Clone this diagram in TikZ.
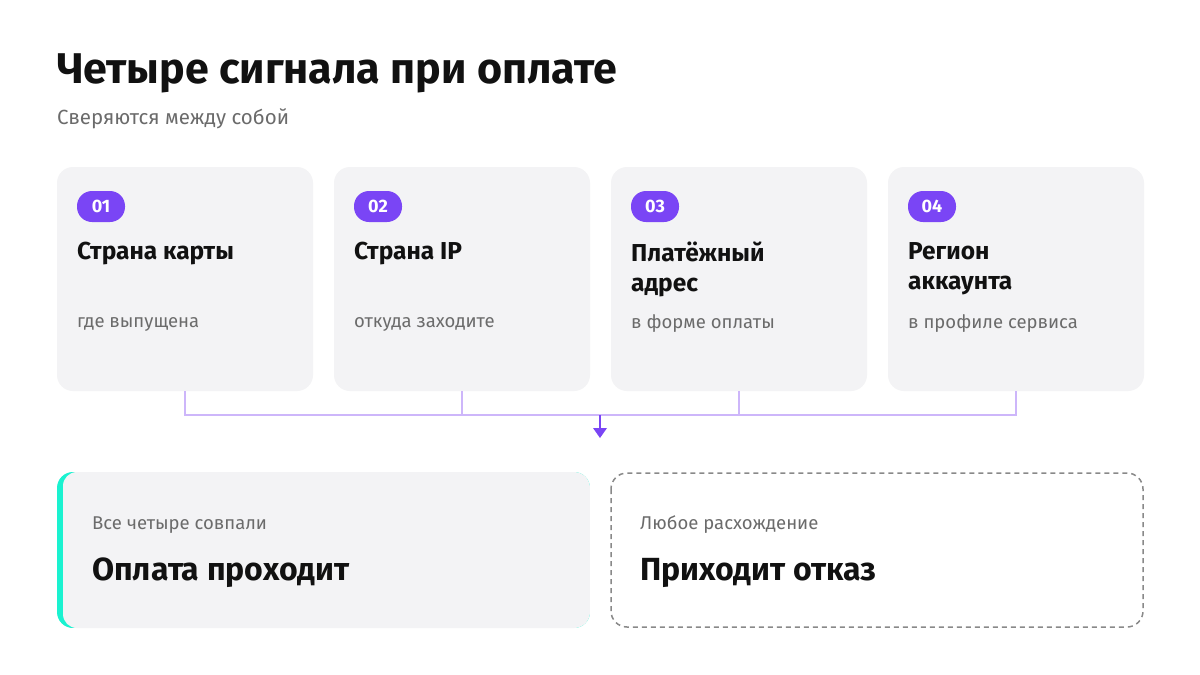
\documentclass[tikz,border=0pt]{standalone}
\usepackage{fontspec}
\setmainfont{Fira Sans}
\begin{document}
\begin{tikzpicture}[x=1pt,y=-1pt,
  card/.style={fill=cardbg,rounded corners=16pt},
  badge/.style={fill=badgec,text=white,rounded corners=15pt,minimum width=48pt,minimum height=31pt,inner sep=0pt,font=\fontsize{18}{18}\selectfont\bfseries},
  ttl/.style={anchor=west,align=left,font=\fontsize{24.5}{30}\selectfont\bfseries,text=ink,inner sep=0pt},
  sub/.style={anchor=west,font=\fontsize{18.5}{18.5}\selectfont,text=grayt,inner sep=0pt},
  big/.style={anchor=west,inner sep=0pt,font=\fontsize{32}{32}\selectfont\bfseries,text=ink},
  conn/.style={draw=linec,line width=1.5pt}]
\definecolor{cardbg}{HTML}{F3F3F5}
\definecolor{badgec}{HTML}{7A45F5}
\definecolor{ink}{HTML}{111111}
\definecolor{grayt}{HTML}{6B6B6B}
\definecolor{linec}{HTML}{CDB6FA}
\definecolor{greenc}{HTML}{1AF2D0}
\useasboundingbox (0,0) rectangle (1200,675);
\fill[white] (0,0) rectangle (1200,675);
\node[anchor=west,inner sep=0pt,font=\fontsize{43}{43}\selectfont\bfseries,text=ink] (title) at (57,73) {Четыре сигнала при оплате};
\node[anchor=west,inner sep=0pt,font=\fontsize{20.5}{20.5}\selectfont,text=grayt] (stitle) at (57,119) {Сверяются между собой};
\foreach \i/\x/\n/\t/\s in {1/57/01/{Страна карты}/{где выпущена},2/334/02/{Страна IP}/{откуда заходите},3/611/03/{Платёжный\\адрес}/{в форме оплаты},4/888/04/{Регион\\аккаунта}/{в профиле сервиса}}{
  \path[card] (\x,167) rectangle ++(256,224);
  \node[badge] (b\i) at (\x+44,206.5) {\n};
  \node[ttl,anchor=north west] (t\i) at (\x+20,242) {\t};
  \node[sub] (s\i) at (\x+20,324) {\s};
  \coordinate (c\i) at (\x+128,391);
  \coordinate (h\i) at (\x+128,415);
}
\draw[conn] (c1) -- (h1) -- (h4) -- (c4);
\draw[conn] (c2) -- (h2);
\draw[conn] (c3) -- (h3);
\coordinate (ms) at (600,415);
\coordinate (me) at (600,438);
\fill[badgec] (593,428) -- (607,428) -- (600,438) -- cycle;
\draw[badgec,line width=1.5pt] (ms) -- (600,429);
\begin{scope}
\clip[rounded corners=16pt] (57,472) rectangle (590,628);
\fill[greenc] (57,472) rectangle (590,628);
\fill[cardbg,rounded corners=14pt] (63,472) rectangle (590,628);
\end{scope}
\node[sub] (ok1) at (92,525) {Все четыре совпали};
\node[big] (ok2) at (92,573) {Оплата проходит};
\draw[grayt!80,line width=1.5pt,dash pattern=on 5pt off 4pt,rounded corners=16pt] (611,473) rectangle (1143,627);
\node[sub] (no1) at (640,525) {Любое расхождение};
\node[big] (no2) at (640,573) {Приходит отказ};
\end{tikzpicture}
\end{document}
